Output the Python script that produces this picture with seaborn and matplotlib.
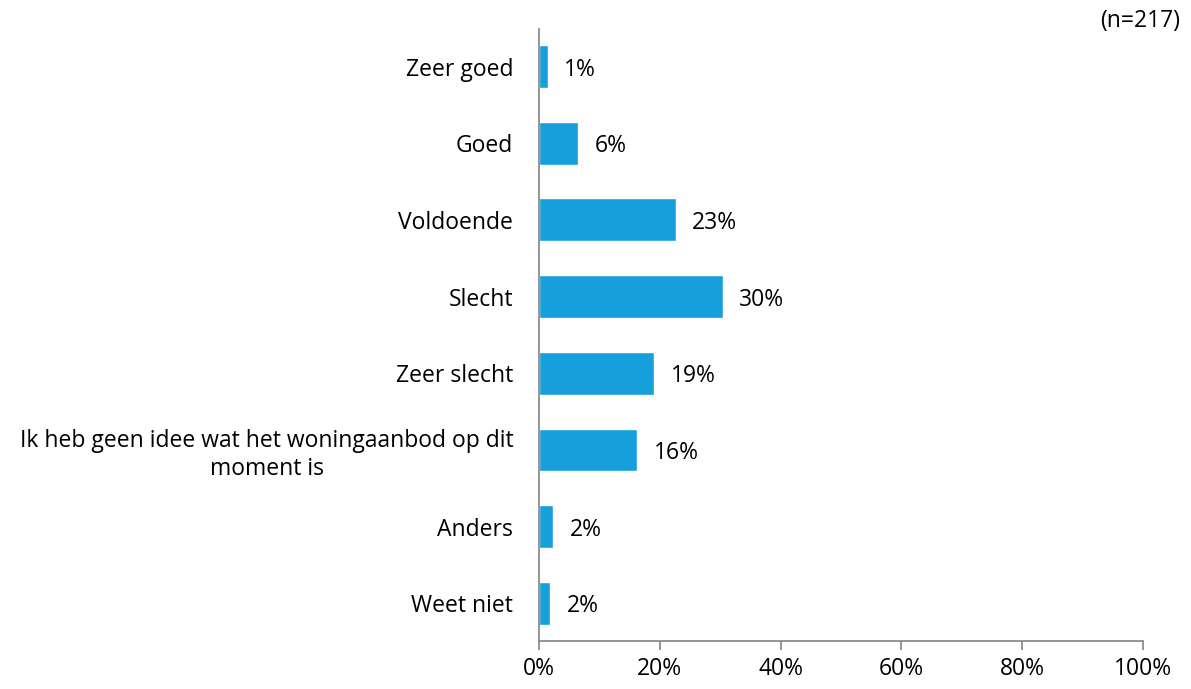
import matplotlib
matplotlib.use("Agg")
import matplotlib.pyplot as plt
import seaborn as sns
import pandas as pd

categories = ["Zeer goed", "Goed", "Voldoende", "Slecht", "Zeer slecht",
              "Ik heb geen idee wat het woningaanbod op dit\nmoment is",
              "Anders", "Weet niet"]
values = [1.4, 6.4, 22.6, 30.4, 19.0, 16.2, 2.3, 1.8]
xticks = [0, 20, 40, 60, 80, 100]

sns.set_style("white")
plt.rcParams['font.family'] = ['Open Sans', 'DejaVu Sans']
plt.rcParams['text.color'] = 'black'

df = pd.DataFrame({"cat": categories, "val": values})

fig = plt.figure(figsize=(11.91, 6.89), dpi=100)
ax = fig.add_axes([0.4526, 0.0697, 0.5071, 0.8882])

sns.barplot(data=df, x="val", y="cat", color="#169FDB", saturation=1,
            width=0.56, ax=ax)

fs = 16.5
labels = ax.bar_label(ax.containers[0], labels=[f"{v:.0f}%" for v in values],
                      padding=12, fontsize=fs, color="black")
for lb in labels:
    lb.set_va("center_baseline")

ax.set_xlim(0, 100)
ax.set_ylim(7.49, -0.49)
ax.set_xticks(xticks)
ax.set_xticklabels([f"{t}%" for t in xticks], fontsize=fs, color="black")
ax.set_xlabel("")
ax.set_ylabel("")
for t in ax.get_yticklabels():
    t.set_fontsize(fs)
    t.set_color("black")
    t.set_multialignment("center")

for s in ["top", "right"]:
    ax.spines[s].set_visible(False)
for s in ["left", "bottom"]:
    ax.spines[s].set_color("#8c8c8c")
    ax.spines[s].set_linewidth(1.3)

ax.tick_params(axis="x", bottom=True, length=6.5, width=1.3, color="#8c8c8c",
               direction="out", pad=5)
ax.tick_params(axis="y", left=False, pad=15)

fig.text(0.991, 0.97, "(n=217)", ha="right", va="center", fontsize=fs)

fig.savefig("out.png", dpi=100)
